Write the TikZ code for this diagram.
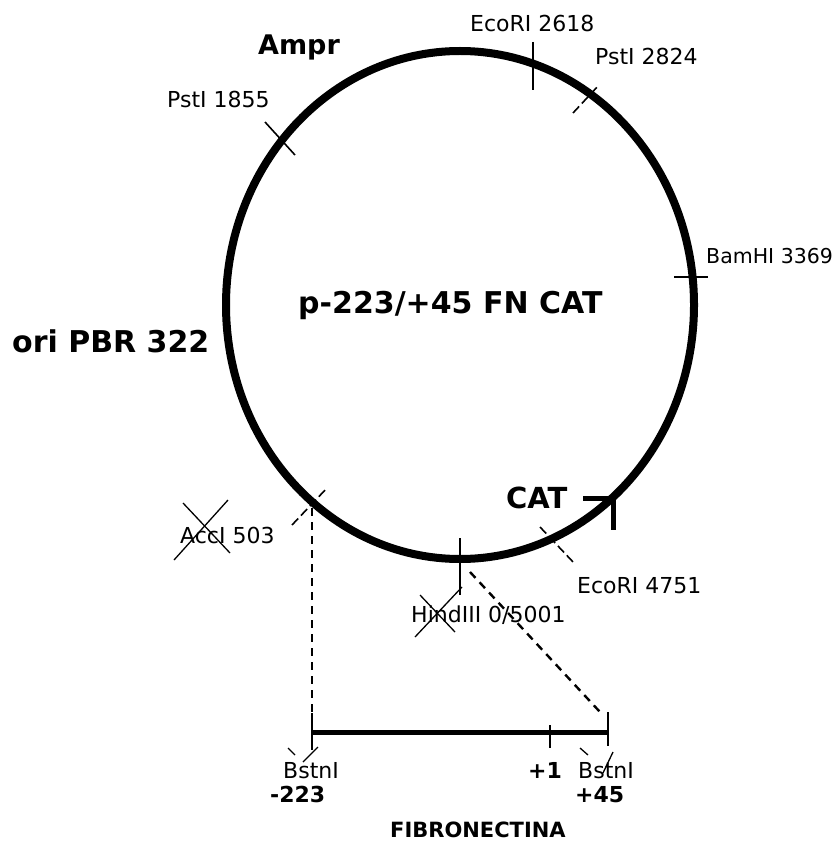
\documentclass[tikz,border=0pt]{standalone}
\usepackage{fontspec}
\setmainfont{DejaVu Sans}
\usetikzlibrary{shapes.geometric}
\tikzset{
  small/.style={font=\fontsize{22}{24}\selectfont, anchor=base west, inner sep=0pt},
  big/.style={font=\fontsize{30}{32}\selectfont\bfseries, anchor=base west, inner sep=0pt},
  fnlbl/.style={font=\fontsize{22}{24}\selectfont\bfseries, anchor=base west, inner sep=0pt},
  tick/.style={line width=1.6pt},
  dtick/.style={line width=1.6pt, dash pattern=on 9pt off 4pt},
  cross/.style={line width=1.3pt},
  guide/.style={line width=2.4pt, dash pattern=on 8pt off 6pt},
}
\begin{document}
\begin{tikzpicture}[x=1pt,y=-1pt]
\useasboundingbox (0,0) rectangle (838,842);
% plasmid
\node[ellipse, draw, line width=8pt, minimum width=468pt, minimum height=508pt, inner sep=0pt] (plasmid) at (460,305) {};
% titles
\node[big] (title) at (298,313) {p-223/+45 FN CAT};
\node[big] (ori) at (12,352) {ori PBR 322};
\node[big, font=\fontsize{27}{29}\selectfont\bfseries] (ampr) at (258,55) {Ampr};
\node[big, font=\fontsize{29}{31}\selectfont\bfseries] (cat) at (506,508) {CAT};
% site labels
\node[small] (eco1) at (470,32) {EcoRI 2618};
\node[small] (pst2) at (595,65) {PstI 2824};
\node[small] (pst1) at (167,108) {PstI 1855};
\node[small, font=\fontsize{20.5}{22}\selectfont] (bam) at (706,263) {BamHI 3369};
\node[small] (eco2) at (577,593) {EcoRI 4751};
\node[small] (hind) at (411,622) {HindIII 0/5001};
\node[small] (acc) at (180,543) {AccI 503};
% tick coordinates
\coordinate (e1a) at (533,42); \coordinate (e1b) at (533,90);
\coordinate (p2a) at (573,113); \coordinate (p2b) at (599,85);
\coordinate (p1a) at (265,122); \coordinate (p1b) at (295,155);
\coordinate (ba) at (674,277); \coordinate (bb) at (708,277);
\coordinate (e2a) at (540,527); \coordinate (e2b) at (574,563);
\coordinate (ha) at (460,538); \coordinate (hb) at (460,595);
\coordinate (aa) at (292,525); \coordinate (ab) at (327,488);
\draw[tick] (e1a) -- (e1b);
\draw[dtick] (p2a) -- (p2b);
\draw[tick] (p1a) -- (p1b);
\draw[tick] (ba) -- (bb);
\draw[dtick] (e2a) -- (e2b);
\draw[tick] (ha) -- (hb);
\draw[dtick] (aa) -- (ab);
% CAT arrow
\coordinate (ca) at (583,498); \coordinate (cb) at (613,498); \coordinate (cc) at (613,530);
\draw[line width=5pt] (ca) -- (cb);
\draw[line width=5pt] (613,495) -- (cc);
% crosses over labels
\draw[cross] (183,503) -- (230,553);
\draw[cross] (174,560) -- (228,500);
\draw[cross] (420,595) -- (455,632);
\draw[cross] (415,637) -- (462,587);
% fibronectin fragment
\coordinate (fl) at (312,732); \coordinate (fr) at (608,732);
\coordinate (dtop) at (312,508); \coordinate (dstart) at (470,572); \coordinate (dend) at (600,712);
\draw[guide] (dtop) -- (fl);
\draw[guide] (dstart) -- (dend);
\draw[line width=5pt] (fl) -- (fr);
\draw[tick, line width=2pt] (312,713) -- (312,750);
\draw[tick, line width=2pt] (608,712) -- (608,746);
\draw[tick, line width=2pt] (550,725) -- (550,748);
\draw[cross] (288,748) -- (295,755);
\draw[cross] (318,747) -- (303,762);
\draw[cross] (580,748) -- (588,755);
\draw[cross] (613,752) -- (603,773);
\node[small, font=\fontsize{22}{24}\selectfont] (bst1) at (283,778) {BstnI};
\node[small, font=\fontsize{22}{24}\selectfont] (bst2) at (578,778) {BstnI};
\node[fnlbl] (m223) at (270,802) {-223};
\node[fnlbl] (p1) at (528,778) {+1};
\node[fnlbl] (p45) at (575,802) {+45};
\node[fnlbl, font=\fontsize{21}{23}\selectfont\bfseries] (fib) at (390,837) {FIBRONECTINA};
\end{tikzpicture}
\end{document}
